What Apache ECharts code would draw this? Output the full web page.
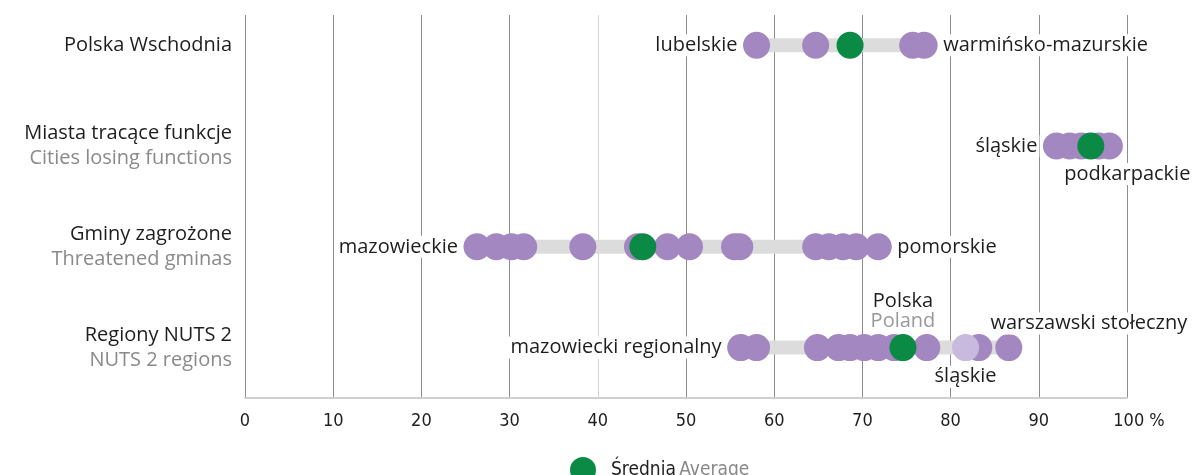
<!DOCTYPE html>
<html>
<head>
<meta charset="utf-8">
<script src="https://cdn.jsdelivr.net/npm/echarts@6/dist/echarts.min.js"></script>
<style>
  html, body { margin: 0; padding: 0; background: #fff; }
  #chart { width: 1194px; height: 475px; }
</style>
</head>
<body>
<div id="chart"></div>
<script>
// rows, top to bottom (Polish name / English name)
var rowPl = ['Polska Wschodnia', 'Miasta tracące funkcje', 'Gminy zagrożone', 'Regiony NUTS 2'];
var rowEn = ['', 'Cities losing functions', 'Threatened gminas', 'NUTS 2 regions'];
var rowY = [3.5, 2.5, 1.5, 0.5];

// percentages per unit in each row
var valsWschodnia = [58.0, 64.7, 75.7, 77.0];
var valsMiasta = [92.0, 93.5, 94.8, 96.8, 98.0];
var valsGminy = [26.3, 28.5, 30.2, 31.6, 38.3, 44.5, 47.9, 50.4, 55.5, 56.1, 64.7, 66.2, 67.8, 69.3, 71.8];
var valsNuts2 = [56.2, 58.0, 64.9, 67.3, 68.6, 70.2, 71.8, 73.6, 77.3, 83.2, 86.6];
var rowVals = [valsWschodnia, valsMiasta, valsGminy, valsNuts2];

var averages = [68.6, 95.9, 45.1, 74.6];   // Średnia
var polandValue = 81.7;                     // highlighted dot, NUTS 2 row

var xTicks = [0, 10, 20, 30, 40, 50, 60, 70, 80, 90, 100];

// annotation texts: row index, value
var labelText = ['lubelskie', 'warmińsko-mazurskie', 'śląskie', 'podkarpackie', 'mazowieckie',
                 'pomorskie', 'mazowiecki regionalny', 'warszawski stołeczny', 'śląskie', 'Polska\nPoland'];
var labelRow = [0, 0, 1, 1, 2, 2, 3, 3, 3, 3];
var labelValue = [58.0, 77.0, 92.0, 98.0, 26.3, 71.8, 56.2, 86.6, 81.7, 74.6];

var FONT = '"Open Sans", "Noto Sans", sans-serif';
var NARROW = '"DejaVu Sans", sans-serif';
var PURPLE = '#a287c1';
var LIGHT = '#c8b9de';
var GREEN = '#0b8a45';
var TEXT = '#1e1e1e';

// placement of each annotation (same order as labelText)
var placement = [
  { position: 'left', distance: 17 },
  { position: 'right', distance: 17 },
  { position: 'left', distance: 17 },
  { position: 'bottom', distance: 17, offset: [18, 0] },
  { position: 'left', distance: 17 },
  { position: 'right', distance: 17 },
  { position: 'left', distance: 17 },
  { position: 'top', distance: 13, offset: [80, 0] },
  { position: 'bottom', distance: 18 },
  { position: 'top', distance: 15, rich: true }
];

var chart = echarts.init(document.getElementById('chart'));

var series = [];

// grey range bars
rowVals.forEach(function (vals, i) {
  series.push({
    type: 'line',
    data: [[Math.min.apply(null, vals), rowY[i]], [Math.max.apply(null, vals), rowY[i]]],
    symbol: 'none',
    lineStyle: { color: '#dcdcdc', width: 14 },
    z: 1,
    silent: true
  });
});

var purpleData = [];
rowVals.forEach(function (vals, i) {
  vals.forEach(function (v) { purpleData.push([v, rowY[i]]); });
});

series.push({
  type: 'scatter', data: purpleData, symbolSize: 27,
  itemStyle: { color: PURPLE, opacity: 1 }, z: 2
});
series.push({
  type: 'scatter', data: [[polandValue, rowY[3]]], symbolSize: 27,
  itemStyle: { color: LIGHT, opacity: 1 }, z: 3
});
series.push({
  name: 'Średnia', type: 'scatter', symbolSize: 27,
  data: averages.map(function (v, i) { return [v, rowY[i]]; }),
  itemStyle: { color: GREEN, opacity: 1 }, z: 4
});

// annotations
series.push({
  type: 'scatter', symbolSize: 0.1, z: 5, silent: true,
  itemStyle: { color: '#ffffff', opacity: 1 },
  data: labelText.map(function (t, i) {
    var p = placement[i];
    var lab = {
      show: true, position: p.position, distance: p.distance,
      offset: p.offset || [0, 0],
      fontFamily: FONT, fontSize: 20, color: TEXT, opacity: 1,
      backgroundColor: '#fff', padding: [1, 2]
    };
    if (p.rich) {
      lab.formatter = '{a|Polska}\n{b|Poland}';
      lab.align = 'center';
      lab.backgroundColor = 'transparent';
      lab.rich = {
        a: { fontFamily: FONT, fontSize: 20, color: TEXT, lineHeight: 20, backgroundColor: '#fff' },
        b: { fontFamily: FONT, fontSize: 20, color: '#999', lineHeight: 20, backgroundColor: '#fff' }
      };
    } else {
      lab.formatter = t;
    }
    return { value: [labelValue[i], rowY[labelRow[i]]], label: lab };
  })
});

var gridColors = xTicks.map(function (t) { return t === 40 ? '#d4d4d4' : '#8c8c8c'; });

var option = {
  animation: false,
  grid: { left: 245, right: 67, top: 15, bottom: 77 },
  legend: {
    data: ['Średnia'],
    left: 565, top: 452,
    icon: 'circle', itemWidth: 26, itemHeight: 26,
    formatter: '{a|Średnia} {b|Average}',
    textStyle: {
      rich: {
        a: { fontFamily: NARROW, fontStyle: 'condensed', fontSize: 19, color: TEXT, padding: [0, 0, 0, 10] },
        b: { fontFamily: NARROW, fontStyle: 'condensed', fontSize: 19, color: '#888' }
      }
    }
  },
  xAxis: {
    type: 'value', min: 0, max: 100, interval: 10,
    axisLine: { show: true, lineStyle: { color: '#d0d0d0', width: 2 } },
    axisTick: { show: false },
    axisLabel: {
      margin: 14, fontFamily: NARROW, fontStyle: 'condensed', fontSize: 18, color: TEXT,
      formatter: function (v) { return v === 100 ? '{p|100 %}' : String(v); },
      rich: {
        p: { fontFamily: NARROW, fontStyle: 'condensed', fontSize: 18, color: TEXT, padding: [0, 0, 0, 24] }
      }
    },
    splitLine: { show: true, showMinLine: true, lineStyle: { color: gridColors, width: 1 } }
  },
  yAxis: {
    type: 'value', min: 0, max: 3.8, interval: 0.5,
    axisLine: { show: false }, axisTick: { show: false },
    splitLine: { show: false },
    axisLabel: {
      margin: 13, align: 'right',
      formatter: function (v) {
        var idx = rowY.indexOf(Math.round(v * 10) / 10);
        if (idx < 0) return '';
        return rowEn[idx] ? '{a|' + rowPl[idx] + '}\n{b|' + rowEn[idx] + '}' : '{a|' + rowPl[idx] + '}';
      },
      rich: {
        a: { fontFamily: FONT, fontSize: 20, color: TEXT, lineHeight: 25, align: 'right' },
        b: { fontFamily: FONT, fontSize: 20, color: '#8a8a8a', lineHeight: 25, align: 'right' }
      }
    }
  },
  series: series
};

chart.setOption(option);
</script>
</body>
</html>
